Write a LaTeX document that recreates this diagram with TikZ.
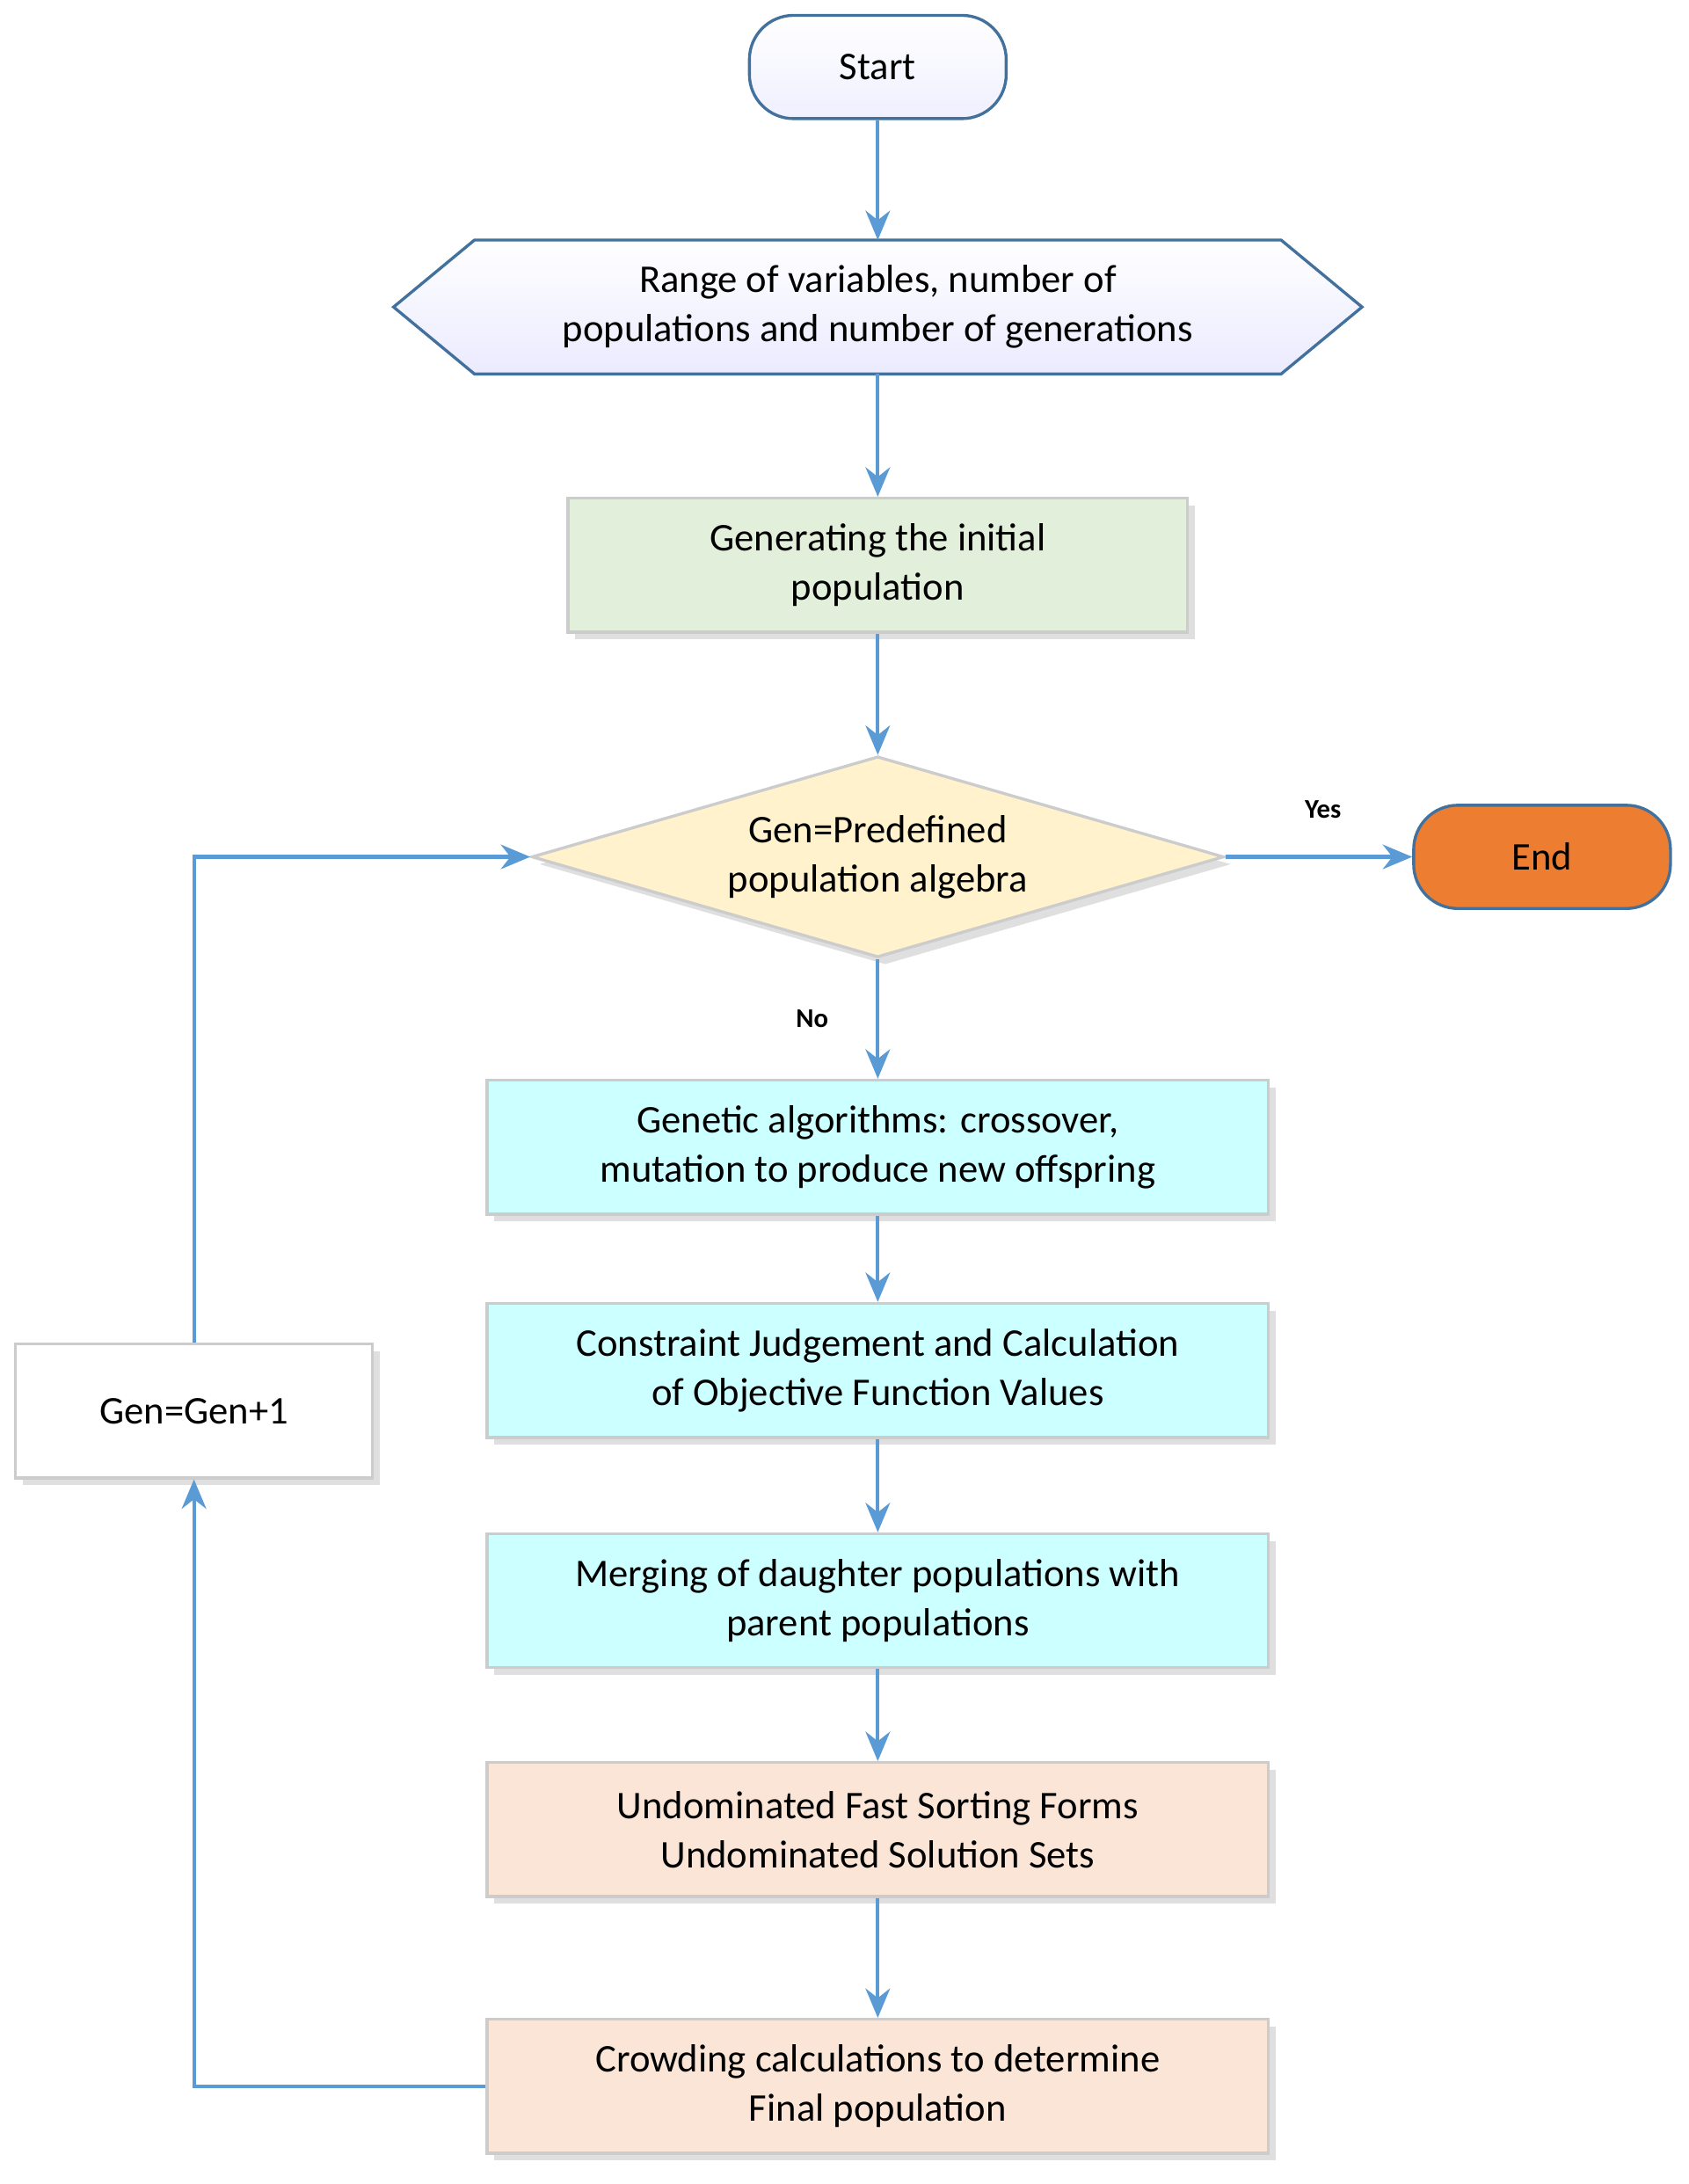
\documentclass[tikz,border=0pt]{standalone}
\usepackage{fontspec}
\setmainfont{Carlito}
\usetikzlibrary{shapes.geometric,shadows,arrows.meta}
\definecolor{ln}{HTML}{5B9BD5}
\definecolor{bd}{HTML}{41719C}
\begin{document}
\begin{tikzpicture}[x=0.02cm,y=-0.02cm,
 box/.style={draw=black!20,line width=1.2pt,minimum width=560*0.02cm,minimum height=96*0.02cm,align=center,font=\fontsize{16}{20}\selectfont,inner sep=0pt,drop shadow={shadow xshift=3pt,shadow yshift=-3pt,fill=black!25}},
 arr/.style={draw=ln,line width=1.5pt,-{Stealth[length=12pt,width=10pt]}},
 lab/.style={font=\bfseries\fontsize{11}{13}\selectfont}]
\useasboundingbox (0,0) rectangle (1210,1565);
\node[draw=bd,line width=1.2pt,rounded corners=18pt,minimum width=184*0.02cm,minimum height=74*0.02cm,top color=white,bottom color=blue!6,font=\fontsize{16}{20}\selectfont] (start) at (629,48) {Start};
\draw[draw=bd,line width=1.2pt,top color=white,bottom color=blue!8] (282,220)--(340,172)--(918,172)--(976,220)--(918,268)--(340,268)--cycle;
\node[align=center,minimum width=694*0.02cm,minimum height=96*0.02cm,font=\fontsize{16}{20}\selectfont] (hex) at (629,220) {Range of variables, number of\\populations and number of generations};
\node[box,fill={rgb,255:red,226;green,239;blue,218},minimum width=444*0.02cm] (gen) at (629,405) {Generating the initial\\population};
\node[diamond,aspect=3.44,draw=black!20,line width=1.2pt,fill={rgb,255:red,255;green,242;blue,204},minimum width=496*0.02cm,minimum height=144*0.02cm,inner sep=0pt,align=center,font=\fontsize{16}{20}\selectfont,drop shadow={shadow xshift=3pt,shadow yshift=-3pt,fill=black!25}] (dia) at (629,614) {Gen=Predefined\\population algebra};
\node[draw=bd,line width=1.2pt,rounded corners=18pt,minimum width=184*0.02cm,minimum height=74*0.02cm,fill={rgb,255:red,237;green,125;blue,49},font=\fontsize{16}{20}\selectfont] (end) at (1105,614) {End};
\node[box,fill={rgb,255:red,204;green,255;blue,255}] (ga) at (629,822) {Genetic algorithms: crossover,\\mutation to produce new offspring};
\node[box,fill={rgb,255:red,204;green,255;blue,255}] (con) at (629,982) {Constraint Judgement and Calculation\\of Objective Function Values};
\node[box,fill={rgb,255:red,204;green,255;blue,255}] (mer) at (629,1147) {Merging of daughter populations with\\parent populations};
\node[box,fill={rgb,255:red,251;green,229;blue,214}] (und) at (629,1311) {Undominated Fast Sorting Forms\\Undominated Solution Sets};
\node[box,fill={rgb,255:red,251;green,229;blue,214}] (cro) at (629,1495) {Crowding calculations to determine\\Final population};
\node[box,fill=white,minimum width=256*0.02cm] (gg) at (139,1011) {Gen=Gen+1};
\draw[arr] (start)--(hex.south |- 0,172);
\draw[arr] (629,268)--(gen);
\draw[arr] (gen)--(dia);
\draw[arr] (dia)--(ga);
\draw[arr] (dia.east)--(end);
\draw[arr] (ga)--(con);
\draw[arr] (con)--(mer);
\draw[arr] (mer)--(und);
\draw[arr] (und)--(cro);
\draw[arr] (cro.west)--(139,1495)--(gg.south);
\draw[arr] (gg.north)--(139,614)--(dia.west);
\node[lab] at (948,580) {Yes};
\node[lab] at (582,730) {No};
\end{tikzpicture}
\end{document}
